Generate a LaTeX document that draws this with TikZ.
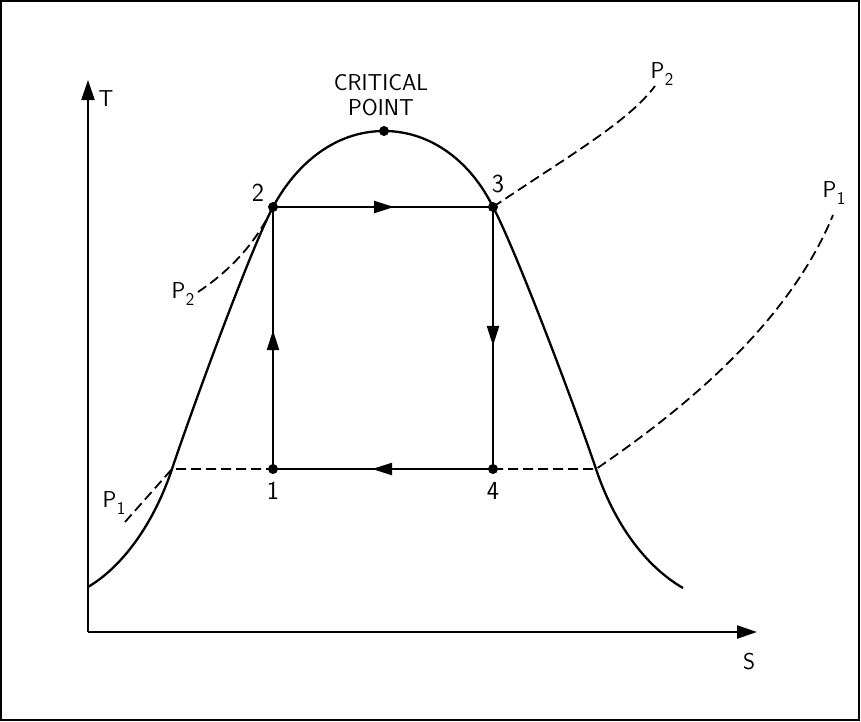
\documentclass[tikz,border=0pt]{standalone}
\usetikzlibrary{arrows.meta,decorations.markings}
\begin{document}
\begin{tikzpicture}[x=1pt,y=-1pt,
  lbl/.style={font=\sffamily\fontsize{23}{23}\selectfont, inner sep=0pt},
  num/.style={font=\sffamily\fontsize{26}{26}\selectfont, inner sep=0pt},
  dot/.style={circle, fill=black, inner sep=0pt, minimum size=10pt},
  solidline/.style={line width=2.3pt},
  dashline/.style={line width=1.8pt, dash pattern=on 10pt off 5pt},
  axis/.style={line width=2.3pt, -{Triangle[length=20pt,width=13pt]}},
  midarrow/.style={postaction={decorate}, decoration={markings,
     mark=at position #1 with {\arrow{Triangle[length=20pt,width=12pt]}}}}
]
\newcommand\psub[1]{P\kern0.5pt\raisebox{-0.8ex}{\fontsize{18}{18}\selectfont #1}}
\useasboundingbox (0,0) rectangle (861,721);
\draw[line width=2pt] (1,1) rectangle (859,720);

% axes
\coordinate (o) at (88,632);
\coordinate (ttip) at (88,80);
\coordinate (stip) at (757,632);
\draw[axis] (o) -- (ttip);
\draw[axis] (o) -- (stip);
\node[lbl] (tl) at (106,99) {T};
\node[lbl] (sl) at (749,662) {S};

% cycle points
\node[dot] (n1) at (273,469) {};
\node[dot] (n2) at (273,207) {};
\node[dot] (n3) at (493,207) {};
\node[dot] (n4) at (493,469) {};
\node[dot] (cp) at (384,131) {};
\coordinate (sl1) at (172,469);
\coordinate (sv1) at (596,469);

% saturation dome
\draw[solidline] (88,587) .. controls (125,565) and (155,520) .. (sl1)
  .. controls (190,415) and (250,250) .. (n2.center)
  .. controls (296,164) and (335,131) .. (cp.center)
  .. controls (433,131) and (472,164) .. (n3.center)
  .. controls (516,250) and (578,415) .. (sv1)
  .. controls (614,523) and (645,566) .. (683,588);

\draw[solidline, midarrow=0.53] (n1.center) -- (n2.center);
\draw[solidline, midarrow=0.55] (n2.center) -- (n3.center);
\draw[solidline, midarrow=0.53] (n3.center) -- (n4.center);
\draw[solidline, midarrow=0.55] (n4.center) -- (n1.center);

% isobars
\coordinate (p1l) at (125,522);
\coordinate (p1r) at (833,215);
\coordinate (p2l) at (198,292);
\coordinate (p2r) at (655,86);
\draw[dashline] (p1l) -- (sl1) -- (n1.center);
\draw[dashline] (n4.center) -- (sv1) .. controls (690,405) and (790,320) .. (p1r);
\draw[dashline] (p2l) .. controls (228,272) and (255,245) .. (n2.center);
\draw[dashline] (n3.center) .. controls (570,155) and (628,122) .. (p2r);

% labels
\node[num] (l1) at (273,491) {1};
\node[num] (l2) at (258,193) {2};
\node[num] (l3) at (498,184) {3};
\node[num] (l4) at (493,491) {4};
\node[lbl] (crit) at (381,83) {CRITICAL};
\node[lbl] (pt) at (381,108) {POINT};
\node[lbl] (lp1l) at (114,503) {\psub{1}};
\node[lbl] (lp1r) at (834,193) {\psub{1}};
\node[lbl] (lp2l) at (183,294) {\psub{2}};
\node[lbl] (lp2r) at (662,74) {\psub{2}};
\end{tikzpicture}
\end{document}
